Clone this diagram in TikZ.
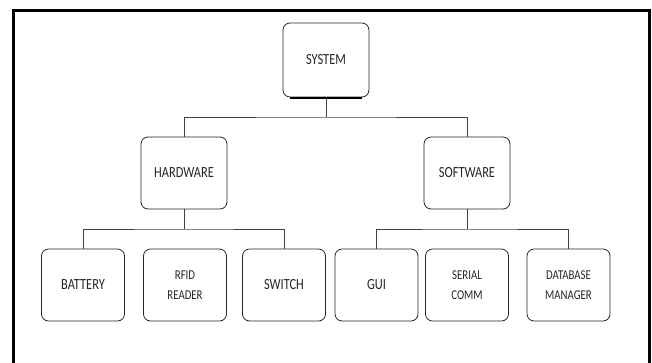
\documentclass[tikz,border=0pt]{standalone}
\usepackage{fontspec}
\setmainfont{Carlito}[FakeStretch=0.8]
\begin{document}
\begin{tikzpicture}[x=1pt,y=-1pt,
  box/.style={draw=black!85, line width=0.8pt, rounded corners=7pt, inner sep=0pt,
    minimum width=86pt, minimum height=72pt, text=black!85,
    font=\fontsize{15.5}{19.5}\selectfont},
  leaf/.style={box, minimum width=83pt},
  twoline/.style={leaf, align=center, font=\fontsize{13.5}{19.5}\selectfont},
  conn/.style={draw=black!75, line width=0.8pt},
  frame/.style={draw=black, line width=3pt}]
\useasboundingbox (0,0) rectangle (652,362);
\draw[frame] (13.5,364) -- (13.5,10) -- (649.5,10) -- (649.5,364);

\node[box, minimum height=74pt] (sys) at (326,60) {SYSTEM};
\node[box] (hw) at (184,173) {HARDWARE};
\node[box] (sw) at (467,173) {SOFTWARE};

\node[leaf] (bat) at (83,285) {BATTERY};
\node[twoline] (rfid) at (185,285) {RFID\\READER};
\node[leaf] (swi) at (284,285) {SWITCH};
\node[leaf] (gui) at (376.5,285) {GUI};
\node[twoline] (ser) at (467,285) {SERIAL\\COMM};
\node[twoline] (db) at (568.5,285) {DATABASE\\MANAGER};

\draw[line width=2pt, black] ([xshift=7pt,yshift=-0.6pt]sys.south west) -- ([xshift=-7pt,yshift=-0.6pt]sys.south east);

\coordinate (b1) at (326,117);
\coordinate (b2) at (184,229);
\coordinate (b3) at (467,229);

\draw[conn] (sys.south) -- (b1);
\draw[conn] (hw.north) |- (b1) -| (sw.north);
\draw[conn] (hw.south) -- (b2);
\draw[conn] (bat.north) |- (b2) -| (swi.north);
\draw[conn] (sw.south) -- (b3);
\draw[conn] (gui.north) |- (b3) -| (db.north);
\end{tikzpicture}
\end{document}
